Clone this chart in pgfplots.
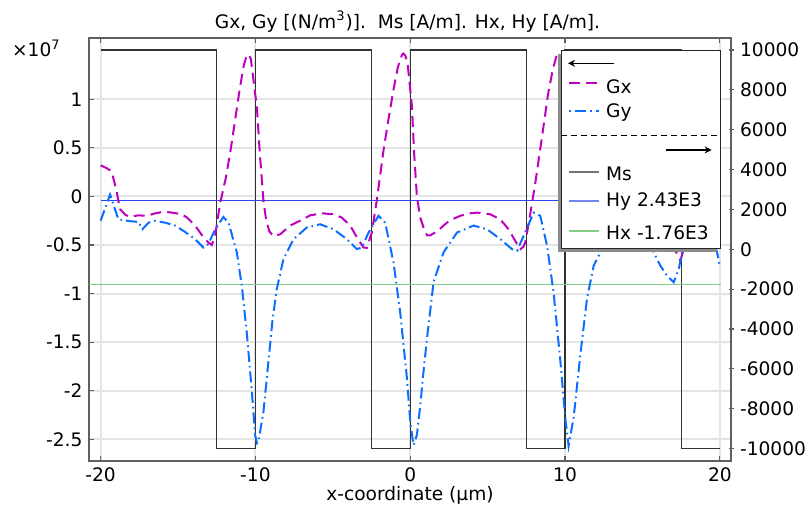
\documentclass[border=0pt]{standalone}
\usepackage{fontspec}
\setmainfont{DejaVu Sans}
\usepackage{pgfplots}
\pgfplotsset{compat=1.18}
\usetikzlibrary{arrows.meta}

\definecolor{gxcol}{RGB}{191,0,191}
\definecolor{gycol}{RGB}{10,110,255}
\definecolor{hycol}{RGB}{40,70,235}
\definecolor{hxcol}{RGB}{130,205,130}
\definecolor{mscol}{RGB}{50,50,50}
\definecolor{gridcol}{RGB}{228,228,228}
\definecolor{framecol}{RGB}{95,95,95}

\begin{document}
\fontsize{9.3}{11}\selectfont
\begin{tikzpicture}[font=\fontsize{9.3}{11}\selectfont]
\path[use as bounding box] (-44.5pt,-22.5pt) rectangle (359pt,230.5pt);
\pgfplotsset{
  base/.style={
    scale only axis, width=321pt, height=211.5pt, at={(0pt,0pt)}, anchor=south west,
    xmin=-20.75, xmax=20.72,
    axis line style={framecol, line width=0.8pt},
    major tick length=2.5pt,
    every tick/.style={framecol, line width=0.6pt},
    tick label style={font=\fontsize{9.3}{11}\selectfont},
    scaled ticks=false,
    clip=true,
  },
  leftscale/.style={ymin=-2.724, ymax=1.631},
}
% Axis A: frame, grid, left ticks
\begin{axis}[base, leftscale,
  xtick={-20,-10,0,10,20},
  xticklabels={-20,-10,0,10,20},
  xtick pos=both, xticklabel pos=bottom,
  ytick={-2.5,-2,-1.5,-1,-0.5,0,0.5,1},
  yticklabels={-2.5,-2,-1.5,-1,-0.5,0,0.5,1},
  ytick pos=left,
  tick align=inside,
  grid=major, major grid style={gridcol, line width=1pt},
]
\addplot[draw=none] coordinates {(0,0)};
\end{axis}
% Axis B: right scale, Ms, Hy, Hx
\begin{axis}[base,
  ymin=-10622, ymax=10602,
  hide x axis,
  axis y line*=right,
  scaled y ticks=false,
  ytick={-10000,-8000,-6000,-4000,-2000,0,2000,4000,6000,8000,10000},
  yticklabels={-10000,-8000,-6000,-4000,-2000,0,2000,4000,6000,8000,10000},
  tick align=center,
]
\addplot[mscol, line width=0.55pt] coordinates {
(-20,10000) (-12.5,10000) (-12.5,-10000) (-10,-10000) (-10,10000) (-2.5,10000) (-2.5,-10000) (0,-10000) (0,10000) (7.5,10000) (7.5,-10000) (10,-10000) (10,10000) (17.5,10000) (17.5,-10000) (20,-10000)};
\addplot[hycol, line width=0.5pt] coordinates {(-20,2430) (20,2430)};
\addplot[hxcol, line width=0.6pt] coordinates {(-20.75,-1760) (20.1,-1760)};
\end{axis}
% Axis C: left scale, Gx, Gy
\begin{axis}[base, leftscale, hide axis]
\addplot[gxcol, line width=1pt, dash pattern=on 5.5pt off 3pt] coordinates {
(-20.0,0.32) (-19.6,0.29) (-19.3,0.26) (-19.0,0.08) (-18.75,-0.13) (-18.4,-0.19) (-18.1,-0.21)
(-17.56,-0.195) (-17.0,-0.20) (-16.5,-0.175) (-15.9,-0.157) (-15.5,-0.165) (-15.1,-0.174)
(-14.7,-0.19) (-14.4,-0.22) (-13.9,-0.30) (-13.36,-0.42) (-13.0,-0.48) (-12.82,-0.50)
(-12.6,-0.40) (-12.28,-0.07) (-11.9,0.2) (-11.6,0.48) (-11.3,0.80) (-10.99,1.13) (-10.75,1.35)
(-10.56,1.455) (-10.45,1.46) (-10.3,1.42) (-10.13,1.2) (-9.91,0.925) (-9.7,0.41) (-9.48,-0.05)
(-9.3,-0.25) (-9.1,-0.36) (-8.84,-0.41) (-8.4,-0.39) (-7.76,-0.30) (-7.11,-0.25) (-6.46,-0.195)
(-5.71,-0.174) (-4.96,-0.184) (-4.42,-0.218) (-3.88,-0.30) (-3.45,-0.42) (-3.02,-0.526)
(-2.8,-0.53) (-2.48,-0.37) (-2.15,-0.03) (-1.72,0.48) (-1.4,0.8) (-1.08,1.10) (-0.8,1.33)
(-0.54,1.455) (-0.45,1.47) (-0.32,1.45) (-0.17,1.37) (0.11,0.925) (0.25,0.45) (0.43,0.0)
(0.65,-0.22) (0.86,-0.32) (1.08,-0.40) (1.3,-0.40) (1.73,-0.36) (2.37,-0.27) (2.8,-0.23)
(3.23,-0.20) (3.8,-0.175) (4.31,-0.167) (4.8,-0.175) (5.17,-0.184) (5.82,-0.236) (6.35,-0.338)
(6.9,-0.49) (7.11,-0.543) (7.3,-0.52) (7.43,-0.474) (7.65,-0.28) (7.87,-0.065) (8.08,0.14)
(8.5,0.6) (8.9,1.05) (9.2,1.3) (9.45,1.45) (9.6,1.46) (9.75,1.40) (9.9,1.2) (10.1,0.9)
(10.3,0.45) (10.5,0.0) (10.8,-0.32) (11.1,-0.40) (11.5,-0.38) (12.2,-0.29) (13,-0.22)
(14,-0.17) (15,-0.18) (15.7,-0.24) (16.3,-0.36) (16.8,-0.50) (17.2,-0.58) (17.45,-0.66)
(17.6,-0.58) (17.8,-0.45) (18.3,-0.05) (18.8,0.3) (19.3,0.5) (19.7,0.52) (19.85,0.51) (20.0,0.35)};
\addplot[gycol, line width=1pt, dash pattern=on 5.5pt off 2pt on 0.8pt off 2pt] coordinates {
(-20.0,-0.25) (-19.7,-0.12) (-19.39,0.02) (-19.1,-0.12) (-18.85,-0.236) (-18.2,-0.253)
(-17.56,-0.263) (-17.3,-0.338) (-16.9,-0.27) (-16.48,-0.253) (-15.84,-0.27) (-15.19,-0.30)
(-14.54,-0.366) (-13.9,-0.44) (-13.36,-0.526) (-13.04,-0.49) (-12.6,-0.338) (-12.07,-0.212)
(-11.74,-0.27) (-11.2,-0.577) (-10.88,-0.92) (-10.56,-1.40) (-10.23,-2.01) (-10.02,-2.456)
(-9.9,-2.54) (-9.8,-2.52) (-9.48,-2.216) (-9.16,-1.70) (-8.9,-1.28) (-8.62,-0.953) (-8.19,-0.645)
(-7.54,-0.44) (-6.68,-0.32) (-5.82,-0.287) (-4.96,-0.338) (-4.09,-0.44) (-3.45,-0.543)
(-3.12,-0.526) (-2.69,-0.372) (-2.05,-0.20) (-1.62,-0.27) (-1.08,-0.68) (-0.65,-1.19)
(-0.21,-1.875) (0.0,-2.32) (0.21,-2.56) (0.43,-2.456) (0.65,-2.15) (0.86,-1.80) (1.08,-1.465)
(1.51,-0.88) (2.15,-0.577) (3.02,-0.372) (4.09,-0.30) (4.96,-0.338) (5.82,-0.44) (6.57,-0.543)
(6.9,-0.56) (7.32,-0.407) (7.97,-0.167) (8.4,-0.20) (8.84,-0.51) (9.26,-0.99) (9.70,-1.70)
(10.02,-2.285) (10.23,-2.57) (10.56,-2.27) (10.99,-1.63) (11.42,-1.05) (11.85,-0.714)
(12.28,-0.577) (13,-0.42) (14,-0.33) (15,-0.40) (15.73,-0.577) (16.16,-0.714) (16.59,-0.817)
(17.02,-0.884) (17.34,-0.75) (17.6,-0.55) (18.0,-0.25) (18.5,-0.15) (19.0,-0.25) (19.5,-0.45)
(19.8,-0.56) (20.0,-0.72)};
\end{axis}
% Title and labels
\node[anchor=base] at (159.25pt,216.35pt) {Gx, Gy [(N/m\textsuperscript{3})].\ \ Ms [A/m]. Hx, Hy [A/m].};
\node[anchor=base west, inner sep=0pt] at (-38.65pt,202.15pt) {×10\textsuperscript{7}};
\node[anchor=base, inner sep=0pt] at (160.5pt,-19.9pt) {x-coordinate (µm)};
% Legend
\fill[black!45] (234.6pt,104.6pt) rectangle (314.1pt,203.6pt);
\filldraw[fill=white, draw=black!85, line width=0.5pt] (236pt,106pt) rectangle (315.5pt,205pt);
\draw[-{Stealth[length=3.5pt,width=3.5pt]}, line width=0.6pt] (262.5pt,198.85pt) -- (239.5pt,198.85pt);
\draw[gxcol, line width=1pt, dash pattern=on 5.5pt off 3pt] (240.15pt,188.85pt) -- (255.1pt,188.85pt);
\node[anchor=base west, inner sep=0pt] at (258.35pt,183.5pt) {Gx};
\draw[gycol, line width=1pt, dash pattern=on 0.8pt off 2pt on 5.5pt off 2pt] (240.15pt,175pt) -- (255.1pt,175pt);
\node[anchor=base west, inner sep=0pt] at (258.35pt,171.85pt) {Gy};
\draw[black, line width=0.5pt, dash pattern=on 3pt off 2pt] (236pt,162.65pt) -- (315.5pt,162.65pt);
\draw[-{Stealth[length=3.5pt,width=3.5pt]}, line width=0.6pt] (288.5pt,155.5pt) -- (311.35pt,155.5pt);
\draw[black!55, line width=0.9pt] (240.15pt,144.65pt) -- (255.1pt,144.65pt);
\node[anchor=base west, inner sep=0pt] at (258.35pt,140pt) {Ms};
\draw[hycol!65, line width=0.9pt] (240.15pt,130pt) -- (255.1pt,130pt);
\node[anchor=base west, inner sep=0pt] at (258.35pt,127.15pt) {Hy 2.43E3};
\draw[hxcol, line width=0.9pt] (240.15pt,115.15pt) -- (255.1pt,115.15pt);
\node[anchor=base west, inner sep=0pt] at (258.35pt,110.85pt) {Hx -1.76E3};
\end{tikzpicture}
\end{document}
